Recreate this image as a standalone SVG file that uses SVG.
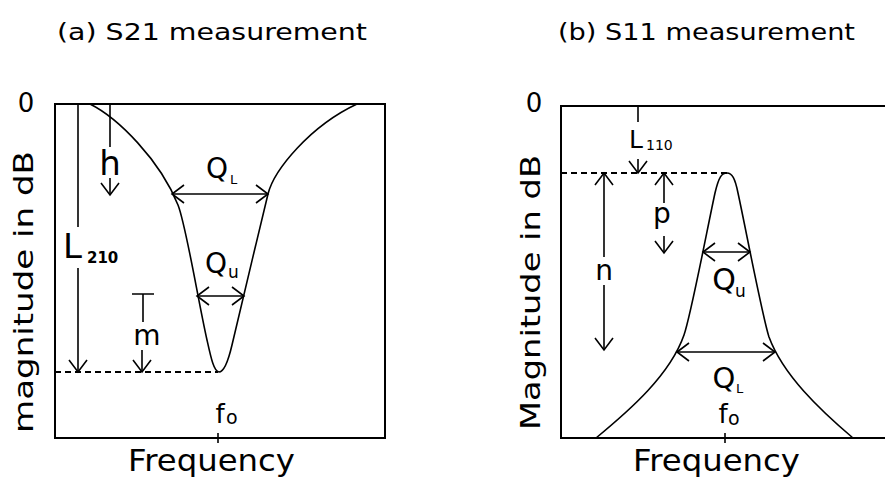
<svg xmlns="http://www.w3.org/2000/svg" width="885" height="481" viewBox="0 0 885 481">
<style>
text{font-family:"DejaVu Sans","Liberation Sans",sans-serif;fill:#000}
.frame{fill:none;stroke:#000;stroke-width:2}
.curve{fill:none;stroke:#000;stroke-width:1.6;stroke-linejoin:round}
.dash{fill:none;stroke:#000;stroke-width:2;stroke-dasharray:6 4}
.ln{fill:none;stroke:#000;stroke-width:1.6}
.arr{fill:none;stroke:#000;stroke-width:1.6;marker-end:url(#ah)}
.darr{fill:none;stroke:#000;stroke-width:1.6;marker-end:url(#ah);marker-start:url(#ah)}
.title{font-size:23px}
.axis{font-size:30px}
.ylab{font-size:27px}
.sym{font-size:28px}
</style>
<defs>
<marker id="ah" viewBox="-15 -15 30 30" markerWidth="30" markerHeight="30" refX="0" refY="0" orient="auto-start-reverse" markerUnits="userSpaceOnUse">
<path d="M-12,-9 L0,0 L-12,9" fill="none" stroke="#000" stroke-width="1.6"/>
</marker>
</defs>

<g id="panel-a">
<text class="title" x="57" y="40" textLength="310" lengthAdjust="spacingAndGlyphs">(a) S21 measurement</text>
<text x="26" y="112" text-anchor="middle" font-size="26">0</text>
<text class="ylab" transform="translate(33,433) rotate(-90)" textLength="282" lengthAdjust="spacingAndGlyphs">magnitude in dB</text>
<text class="axis" x="128" y="471" textLength="167" lengthAdjust="spacingAndGlyphs">Frequency</text>
<rect class="frame" x="55" y="104" width="330" height="334"/>
<path class="dash" d="M55,372 H218"/>
<path id="curve-a" class="curve" d="M90,104 C118,118 160,160 178,205 C186,225 198,300 207,340 C211,358 214,372 219,372 C224,372 228,362 232,345 C236,328 258,235 268,194 C274,170 310,126 357,104"/>
<g id="a-L210">
<path class="ln" d="M78,104 V227"/>
<path class="arr" d="M78,268 V372"/>
<text x="63" y="258" font-size="34">L</text>
<text x="87" y="263" font-size="15" font-weight="bold">210</text>
</g>
<g id="a-h">
<path class="ln" d="M110,104 V147"/>
<text x="110" y="175" text-anchor="middle" font-size="34">h</text>
<path class="arr" d="M110,178 V195"/>
</g>
<g id="a-m">
<path class="ln" d="M132,294 H154 M143,294 V322" stroke-width="2.2"/>
<text class="sym" x="147" y="345" text-anchor="middle">m</text>
<path class="arr" d="M142,350 V372"/>
</g>
<g id="a-QL">
<path class="darr" d="M172,194 H268"/>
<text class="sym" x="217" y="178" text-anchor="middle">Q</text>
<text x="230" y="184" font-size="13">L</text>
</g>
<g id="a-QU">
<path class="darr" d="M197,296 H244"/>
<text class="sym" x="216" y="273" text-anchor="middle">Q</text>
<text x="228" y="278" font-size="17">u</text>
</g>
<g id="a-f0">
<text x="220" y="423" text-anchor="middle" font-size="26">f</text>
<text x="226" y="424" font-size="19">o</text>
<path class="ln" d="M218,433 V443"/>
</g>
</g>

<g id="panel-b">
<text class="title" x="558" y="40" textLength="297" lengthAdjust="spacingAndGlyphs">(b) S11 measurement</text>
<text x="534" y="112" text-anchor="middle" font-size="26">0</text>
<text class="ylab" transform="translate(540,430) rotate(-90)" textLength="275" lengthAdjust="spacingAndGlyphs">Magnitude in dB</text>
<text class="axis" x="633" y="471" textLength="167" lengthAdjust="spacingAndGlyphs">Frequency</text>
<path class="frame" d="M885,106 H561 V438 H885"/>
<path class="dash" d="M561,173 H727"/>
<path id="curve-b" class="curve" d="M596,438 C630,410 670,375 684,335 C691,315 708,225 715,193 C719,176 722,173 727,173 C732,173 735,178 738,193 C745,225 762,315 769,337 C783,375 820,410 853,438"/>
<g id="b-L110">
<path class="ln" d="M638,106 V122"/>
<text x="629" y="148" font-size="25">L</text>
<text x="646" y="150" font-size="14">110</text>
<path class="arr" d="M638,159 V173"/>
</g>
<g id="b-n">
<path class="arr" d="M604,257 V173"/>
<text class="sym" x="604" y="280" text-anchor="middle">n</text>
<path class="arr" d="M604,285 V350"/>
</g>
<g id="b-p">
<path class="arr" d="M664,203 V173"/>
<text class="sym" x="662" y="223" text-anchor="middle">p</text>
<path class="arr" d="M664,236 V253"/>
</g>
<g id="b-QU">
<path class="darr" d="M703,252 H750"/>
<text x="724" y="290" text-anchor="middle" font-size="30">Q</text>
<text x="735" y="297" font-size="17">u</text>
</g>
<g id="b-QL">
<path class="darr" d="M677,352 H775"/>
<text x="724" y="388" text-anchor="middle" font-size="29">Q</text>
<text x="736" y="393" font-size="13">L</text>
</g>
<g id="b-f0">
<text x="723" y="423" text-anchor="middle" font-size="26">f</text>
<text x="728" y="425" font-size="19">o</text>
<path class="ln" d="M725,433 V443"/>
</g>
</g>
</svg>
